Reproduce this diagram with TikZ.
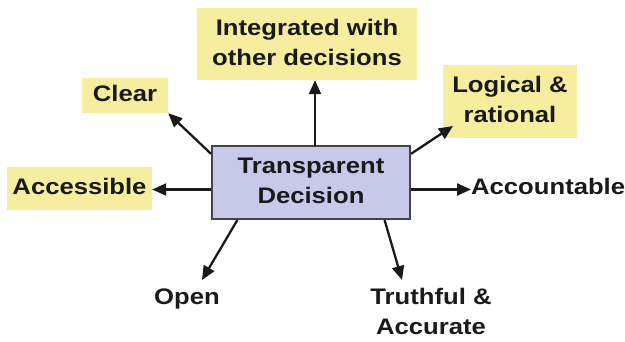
\documentclass[tikz,border=0pt]{standalone}
\usepackage{fontspec}
\setmainfont{Liberation Sans}
\usepackage{graphicx}
\usetikzlibrary{arrows.meta}
\definecolor{ylw}{HTML}{F6EE9E}
\definecolor{lav}{HTML}{C8C8EA}
\definecolor{bord}{HTML}{454545}
\definecolor{txt}{HTML}{1A1A1A}
\newcommand\wt[1]{\fontsize{22.5}{30}\selectfont\bfseries\scalebox{1.14}[1]{\begin{tabular}{@{}c@{}}#1\end{tabular}}}
\begin{document}
\begin{tikzpicture}[x=1pt,y=-1pt,
  lbl/.style={inner sep=0pt,text=txt,font=\bfseries},
  ybox/.style={lbl,fill=ylw},
  cbox/.style={lbl,fill=lav,draw=bord,line width=2pt},
  arr/.style={line width=2.3pt,-{Triangle[length=14pt,width=12pt]},txt}]
\useasboundingbox (0,0) rectangle (625,341);
\node[cbox,minimum width=198pt,minimum height=73pt] (tb) at (311,182.5) {\wt{Transparent\\Decision}};
\node[ybox,minimum width=220pt,minimum height=72pt] (ig) at (307,44) {\wt{Integrated with\\other decisions}};
\node[ybox,minimum width=86pt,minimum height=35pt] (cl) at (125,95.5) {\wt{Clear}};
\node[ybox,minimum width=134pt,minimum height=73pt] (lg) at (510,101.5) {\wt{Logical \&\\rational}};
\node[ybox,minimum width=145pt,minimum height=43pt] (ac) at (79.5,188.5) {\wt{Accessible}};
\node[lbl,anchor=west] (at) at (471,188) {\wt{Accountable}};
\node[lbl] (op) at (187,298) {\wt{Open}};
\node[lbl] (tr) at (431,313) {\wt{Truthful \&\\Accurate}};
\coordinate (opt) at (202,280);
\coordinate (trt) at (402,280);
\coordinate (lgt) at (453,126);
\coordinate (igs) at (315,146);
\draw[arr] (igs) -- (igs |- ig.south);
\draw[arr] (tb.164) -- (cl.south east);
\draw[arr] (tb.16) -- (lgt);
\draw[arr] (tb.184) -- (tb.184 -| ac.east);
\draw[arr] (tb.-4) -- (tb.-4 -| at.west);
\draw[arr] (tb.207) -- (opt);
\draw[arr] (tb.-27) -- (trt);
\end{tikzpicture}
\end{document}
